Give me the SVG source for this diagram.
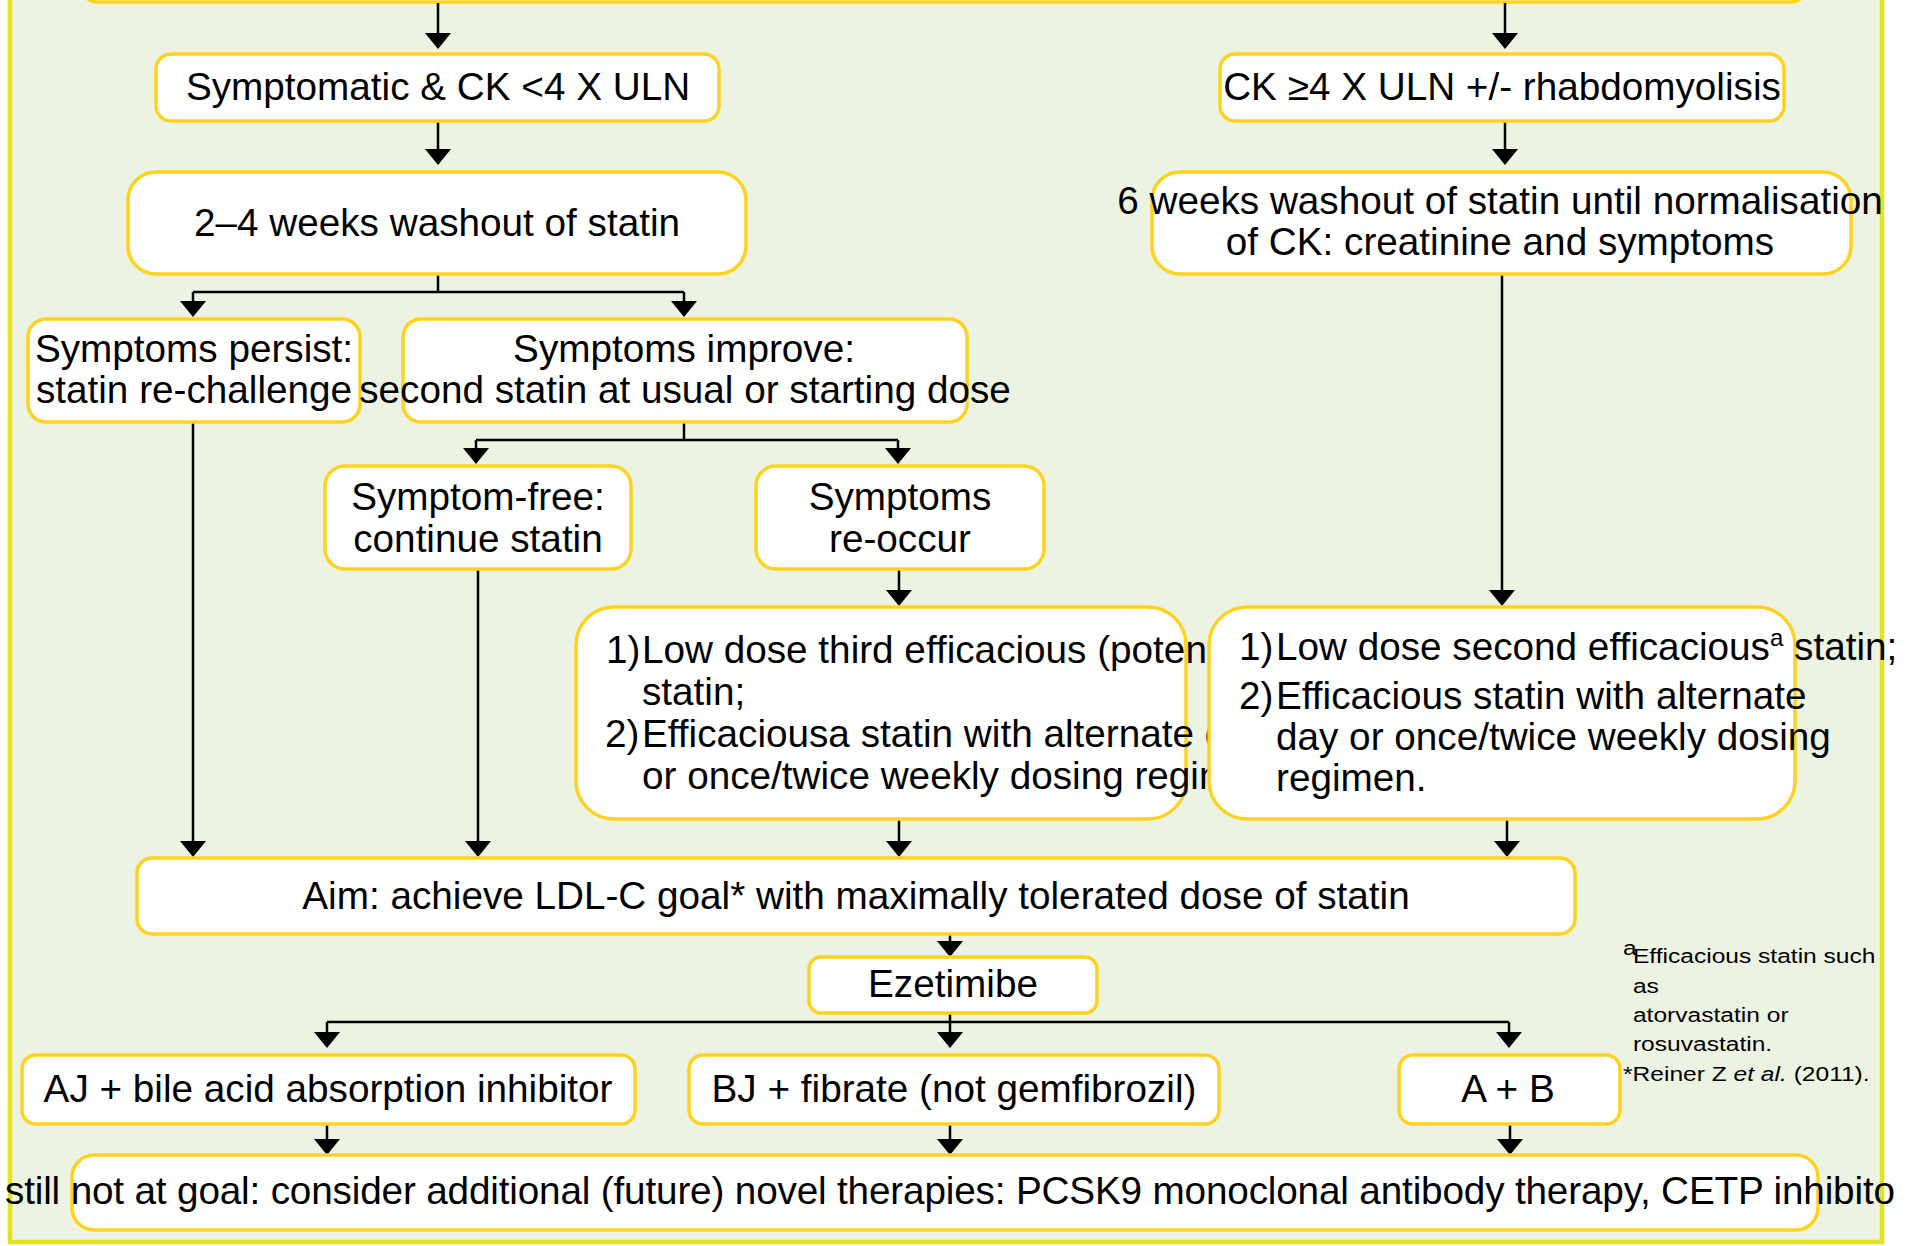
<svg xmlns="http://www.w3.org/2000/svg" width="1908" height="1246" viewBox="0 0 1908 1246">
<defs>
<style>
.bg{fill:#ffffff}
.frame{fill:#edf3e3;stroke:#e1e41f;stroke-width:4.5}
.box{fill:#ffffff;stroke:#fdd31f;stroke-width:3.5}
.t{font-family:"Liberation Sans",Arial,Helvetica,sans-serif;font-size:38.7px;fill:#000000}
.c{text-anchor:middle}
.fn{font-family:"Liberation Sans",Arial,Helvetica,sans-serif;font-size:21px;fill:#000000}
.con{fill:none;stroke:#000000;stroke-width:2.5}
.arr{fill:none;stroke:#000000;stroke-width:2.5;marker-end:url(#ah)}
</style>
<marker id="ah" viewBox="0 0 16 26" refX="14" refY="13" markerWidth="16" markerHeight="26" markerUnits="userSpaceOnUse" orient="auto">
<path d="M0,0 L16,13 L0,26 z" fill="#000000"/>
</marker>
</defs>
<rect class="bg" x="0" y="0" width="1908" height="1246"/>
<rect class="frame" x="10" y="-20" width="1872" height="1262"/>

<g id="top">
<rect class="box" x="82" y="-50" width="1724" height="52" rx="15"/>
</g>

<g id="connectors">
<path class="arr" d="M438,3 V47"/>
<path class="arr" d="M1505,3 V47"/>
<path class="arr" d="M438,121 V163"/>
<path class="arr" d="M1505,121 V163"/>
<path class="con" d="M438,274 V292 M193,292 H684"/>
<path class="arr" d="M193,292 V315"/>
<path class="arr" d="M684,292 V315"/>
<path class="con" d="M684,422 V440 M476,440 H898"/>
<path class="arr" d="M476,440 V462"/>
<path class="arr" d="M898,440 V462"/>
<path class="arr" d="M899,569 V604"/>
<path class="arr" d="M1502,274 V604"/>
<path class="arr" d="M193,422 V855"/>
<path class="arr" d="M478,569 V855"/>
<path class="arr" d="M899,819 V855"/>
<path class="arr" d="M1507,819 V855"/>
<path class="arr" d="M950,934 V955"/>
<path class="con" d="M327,1022 H1509"/>
<path class="arr" d="M950,1013 V1046"/>
<path class="arr" d="M327,1022 V1046"/>
<path class="arr" d="M1509,1022 V1046"/>
<path class="arr" d="M327,1124 V1153"/>
<path class="arr" d="M950,1124 V1153"/>
<path class="arr" d="M1510,1124 V1153"/>
</g>

<g id="n1">
<rect class="box" x="156" y="54" width="563" height="67" rx="15"/>
<text class="t c" x="438" y="100">Symptomatic &amp; CK &lt;4 X ULN</text>
</g>

<g id="n2">
<rect class="box" x="128" y="172" width="618" height="102" rx="28"/>
<text class="t c" x="437" y="236">2–4 weeks washout of statin</text>
</g>

<g id="nCK">
<rect class="box" x="1220" y="54" width="564" height="67" rx="15"/>
<text class="t c" x="1502" y="100">CK ≥4 X ULN +/- rhabdomyolisis</text>
</g>

<g id="n6w">
<rect class="box" x="1152" y="172" width="699" height="102" rx="28"/>
<text class="t c" x="1500" y="214">6 weeks washout of statin until normalisation</text>
<text class="t c" x="1500" y="255">of CK: creatinine and symptoms</text>
</g>

<g id="n3">
<rect class="box" x="28" y="319" width="332" height="103" rx="18"/>
<text class="t c" x="194" y="362">Symptoms persist:</text>
<text class="t c" x="194" y="403">statin re-challenge</text>
</g>

<g id="n4">
<rect class="box" x="403" y="319" width="564" height="103" rx="18"/>
<text class="t c" x="684" y="362">Symptoms improve:</text>
<text class="t c" x="685" y="403">second statin at usual or starting dose</text>
</g>

<g id="n5">
<rect class="box" x="325" y="466" width="306" height="103" rx="20"/>
<text class="t c" x="478" y="510">Symptom-free:</text>
<text class="t c" x="478" y="552">continue statin</text>
</g>

<g id="n6">
<rect class="box" x="756" y="466" width="288" height="103" rx="20"/>
<text class="t c" x="900" y="510">Symptoms</text>
<text class="t c" x="900" y="552">re-occur</text>
</g>

<g id="n7">
<rect class="box" x="576" y="607" width="610" height="212" rx="38"/>
<text class="t" x="606" y="663">1)<tspan x="642">Low dose third efficacious (poten</tspan></text>
<text class="t" x="642" y="705">statin;</text>
<text class="t" x="605" y="747">2)<tspan x="642">Efficaciousa statin with alternate d</tspan></text>
<text class="t" x="642" y="789">or once/twice weekly dosing regim</text>
</g>

<g id="n8">
<rect class="box" x="1209" y="607" width="586" height="212" rx="38"/>
<text class="t" x="1239" y="660">1)<tspan x="1276">Low dose second efficacious</tspan><tspan font-size="24" dy="-14">a</tspan><tspan dy="14"> statin;</tspan></text>
<text class="t" x="1239" y="709">2)<tspan x="1276">Efficacious statin with alternate</tspan></text>
<text class="t" x="1276" y="750">day or once/twice weekly dosing</text>
<text class="t" x="1276" y="791">regimen.</text>
</g>

<g id="aim">
<rect class="box" x="137" y="858" width="1438" height="76" rx="15"/>
<text class="t c" x="856" y="909">Aim: achieve LDL-C goal* with maximally tolerated dose of statin</text>
</g>

<g id="eze">
<rect class="box" x="809" y="957" width="288" height="56" rx="12"/>
<text class="t c" x="953" y="997">Ezetimibe</text>
</g>

<g id="aj">
<rect class="box" x="22" y="1055" width="613" height="69" rx="14"/>
<text class="t c" x="328" y="1102">AJ + bile acid absorption inhibitor</text>
</g>

<g id="bj">
<rect class="box" x="689" y="1055" width="530" height="69" rx="14"/>
<text class="t c" x="954" y="1102">BJ + fibrate (not gemfibrozil)</text>
</g>

<g id="ab">
<rect class="box" x="1399" y="1055" width="221" height="69" rx="14"/>
<text class="t c" x="1508" y="1102">A + B</text>
</g>

<g id="final">
<rect class="box" x="72" y="1155" width="1746" height="75" rx="22"/>
<text class="t" x="5" y="1204" font-size="37.4" textLength="1890" lengthAdjust="spacing">still not at goal: consider additional (future) novel therapies: PCSK9 monoclonal antibody therapy, CETP inhibito</text>
</g>

<g id="footnote" transform="translate(1623,0) scale(1.17,1)">
<text class="fn" x="0" y="955" font-size="12">a</text>
<text class="fn" x="8.5" y="963">Efficacious statin such</text>
<text class="fn" x="8.5" y="993">as</text>
<text class="fn" x="8.5" y="1022">atorvastatin or</text>
<text class="fn" x="8.5" y="1051">rosuvastatin.</text>
<text class="fn" x="0" y="1081">*Reiner Z <tspan font-style="italic">et al.</tspan> (2011).</text>
</g>
</svg>
